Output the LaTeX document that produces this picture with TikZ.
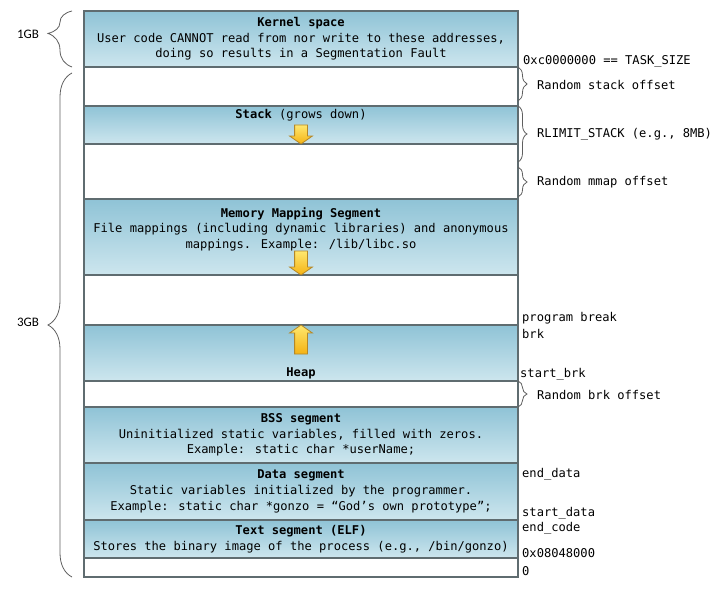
\documentclass[tikz,border=0pt]{standalone}
\usepackage{fontspec}
\setmainfont{DejaVu Sans Mono}
\newfontfamily\gbfont{Carlito}
\usetikzlibrary{positioning, shapes.arrows, decorations.pathreplacing}

\definecolor{segtop}{RGB}{143,195,214}
\definecolor{segbot}{RGB}{205,230,238}
\definecolor{segline}{RGB}{95,108,112}
\definecolor{arrtop}{RGB}{255,232,110}
\definecolor{arrbot}{RGB}{244,178,20}
\definecolor{arrline}{RGB}{180,135,40}
\definecolor{bracegray}{RGB}{95,95,95}

\tikzstyle{segbox} = [rectangle, minimum width=434pt, inner sep=0pt, outer sep=0pt, draw=segline, line width=1.2pt, align=center]
\tikzstyle{usedseg} = [segbox, top color=segtop, bottom color=segbot]
\tikzstyle{freeseg} = [segbox, fill=white]
\tikzstyle{growarrow} = [single arrow, draw=arrline, line width=0.8pt, top color=arrtop, bottom color=arrbot, single arrow head extend=5pt, single arrow tip angle=110, inner sep=6pt, outer sep=0pt, anchor=tip]
\tikzstyle{addrlabel} = [anchor=base west, inner sep=0pt]
\tikzstyle{rbrace} = [decorate, decoration={brace, amplitude=9pt}, draw=bracegray, line width=0.8pt]
\tikzstyle{lbrace} = [decorate, decoration={brace, amplitude=24pt}, draw=bracegray, line width=0.8pt]

\begin{document}
\begin{tikzpicture}[x=1pt, y=-1pt, font=\fontsize{12.1}{15.7}\selectfont]
   \useasboundingbox (0,0) rectangle (725,599);

   % the address space, top to bottom
   \node (kernel) [usedseg, minimum height=56pt] at (301,39) {\textbf{Kernel space}\\User code CANNOT read from nor write to these addresses,\\doing so results in a Segmentation Fault};
   \node (gap1) [freeseg, minimum height=39pt, below=0pt of kernel] {};
   \node (stack) [usedseg, minimum height=38pt, below=0pt of gap1] {};
   \node (gap2) [freeseg, minimum height=55pt, below=0pt of stack] {};
   \node (mmap) [usedseg, minimum height=76pt, below=0pt of gap2] {};
   \node (gap3) [freeseg, minimum height=50pt, below=0pt of mmap] {};
   \node (heap) [usedseg, minimum height=56pt, below=0pt of gap3] {};
   \node (gap4) [freeseg, minimum height=26pt, below=0pt of heap] {};
   \node (bss) [usedseg, minimum height=56pt, below=0pt of gap4] {\textbf{BSS segment}\\Uninitialized static variables, filled with zeros.\\Example: static char *userName;};
   \node (data) [usedseg, minimum height=57pt, below=0pt of bss] {\textbf{Data segment}\\Static variables initialized by the programmer.\\Example: static char *gonzo = “God’s own prototype”;};
   \node (code) [usedseg, minimum height=38pt, below=0pt of data] {\textbf{Text segment (ELF)}\\Stores the binary image of the process (e.g., /bin/gonzo)};
   \node (gap5) [freeseg, minimum height=19pt, below=0pt of code] {};

   \node (stacktitle) [below=3pt of stack.north, inner sep=0pt] {\textbf{Stack} (grows down)};
   \node (mmaptitle) [below=8pt of mmap.north, inner sep=0pt, align=center] {\textbf{Memory Mapping Segment}\\File mappings (including dynamic libraries) and anonymous\\mappings. Example: /lib/libc.so};
   \node (heaptitle) [above=2pt of heap.south, inner sep=0pt] {\textbf{Heap}};

   \node (stackgrow) [growarrow, shape border rotate=270, minimum height=19pt] at (stack.south) {};
   \node (mmapgrow) [growarrow, shape border rotate=270, minimum height=24pt] at (mmap.south) {};
   \node (heapgrow) [growarrow, shape border rotate=90, minimum height=29pt] at (heap.north) {};

   % sizes on the left
   \draw [lbrace, decoration={aspect=0.6}] ([xshift=-12pt]kernel.south west) -- ([xshift=-12pt]kernel.north west);
   \draw [lbrace] ([xshift=-12pt]gap5.south west) -- ([xshift=-12pt,yshift=-6pt]gap1.north west);
   \node (onegb) at (28,34) {\gbfont\fontsize{13}{15}\selectfont 1GB};
   \node (threegb) at (28,322) {\gbfont\fontsize{13}{15}\selectfont 3GB};

   % offsets on the right
   \draw [rbrace] (gap1.north east) -- ([yshift=5pt]gap1.south east);
   \draw [rbrace] (stack.north east) -- ([yshift=-18pt]stack.south east);
   \draw [rbrace] ([yshift=-23pt]stack.south east) -- ([yshift=2pt]mmap.north east);
   \draw [rbrace] (gap4.north east) -- (gap4.south east);

   \node (randstack) [addrlabel] at (537,89.5) {Random stack offset};
   \node (rlimit) [addrlabel] at (537,137) {RLIMIT\_STACK (e.g., 8MB)};
   \node (randmmap) [addrlabel] at (537,185) {Random mmap offset};
   \node (randbrk) [addrlabel] at (537,399) {Random brk offset};

   % addresses
   \node (tasksize) [addrlabel] at (523,64.5) {0xc0000000 == TASK\_SIZE};
   \node (progbreak) [addrlabel] at (522,321.5) {program break};
   \node (brk) [addrlabel] at (522,338.5) {brk};
   \node (startbrk) [addrlabel] at (520,377) {start\_brk};
   \node (enddata) [addrlabel] at (522,477.5) {end\_data};
   \node (startdata) [addrlabel] at (522,516.5) {start\_data};
   \node (endcode) [addrlabel] at (522,531.5) {end\_code};
   \node (textstart) [addrlabel] at (522,557) {0x08048000};
   \node (zero) [addrlabel] at (522,575) {0};
\end{tikzpicture}
\end{document}
